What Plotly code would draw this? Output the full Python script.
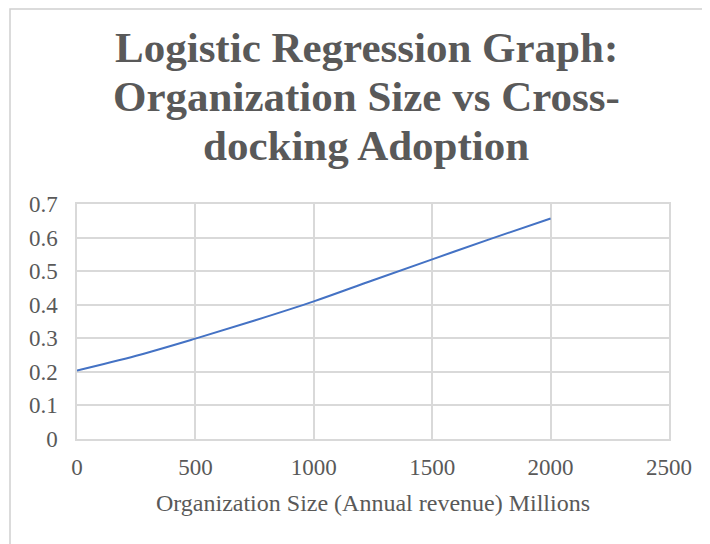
import plotly.graph_objects as go

# values
org_size = [0, 250, 500, 750, 1000, 1250, 1500, 1750, 2000]
adoption = [0.204, 0.248, 0.299, 0.353, 0.410, 0.473, 0.535, 0.597, 0.657]

x_ticks = [0, 500, 1000, 1500, 2000, 2500]
y_ticks = [0, 0.1, 0.2, 0.3, 0.4, 0.5, 0.6, 0.7]
y_labels = ["0", "0.1", "0.2", "0.3", "0.4", "0.5", "0.6", "0.7"]
title_lines = ["Logistic Regression Graph:", "Organization Size vs Cross-", "docking Adoption"]

grey = "#595959"
grid = "#d9d9d9"
serif = "Liberation Serif, Times New Roman, serif"

fig = go.Figure()
fig.add_trace(go.Scatter(x=org_size, y=adoption, mode="lines",
                         line=dict(color="#4472C4", width=2, shape="spline"),
                         showlegend=False))

fig.update_layout(
    width=710, height=544,
    margin=dict(l=69, r=49, t=196, b=113, autoexpand=False),
    paper_bgcolor="white", plot_bgcolor="white",
    font=dict(family=serif, color=grey),
    xaxis=dict(range=[0, 2500], tickvals=x_ticks, showgrid=True, gridcolor=grid,
               gridwidth=1.5, zeroline=False, showline=True, linecolor=grid,
               linewidth=1.5, mirror=True, ticks="", ticklabelstandoff=7,
               automargin=False, tickfont=dict(size=23, color=grey),
               title=dict(text="Organization Size (Annual revenue) Millions",
                          font=dict(size=24, color=grey), standoff=15)),
    yaxis=dict(range=[0, 0.7], tickvals=y_ticks, ticktext=y_labels,
               showgrid=True, automargin=False,
               gridcolor=grid, gridwidth=1.5, zeroline=False, showline=True,
               linecolor=grid, linewidth=1.5, mirror=True, ticks="",
               ticklabelstandoff=13, tickfont=dict(size=23, color=grey)),
)

# title, one line per annotation so the line spacing matches Excel's
for i, line in enumerate(title_lines):
    fig.add_annotation(text="<b>" + line + "</b>", xref="paper", yref="paper",
                       x=(358 - 69) / 592, y=(431 - (40 + 48.5 * i)) / 235,
                       xanchor="center", yanchor="middle", showarrow=False,
                       font=dict(size=43, color=grey, family=serif))

# chart border (Excel chart area outline), cut off at right and bottom
fig.add_shape(type="rect", xref="paper", yref="paper",
              x0=(2 - 69) / 592, x1=(720 - 69) / 592,
              y0=-(560 - 431) / 235, y1=(431 - 1) / 235,
              line=dict(color="#d0d0d0", width=1.5), fillcolor="rgba(0,0,0,0)")

fig.write_html("out.html")
